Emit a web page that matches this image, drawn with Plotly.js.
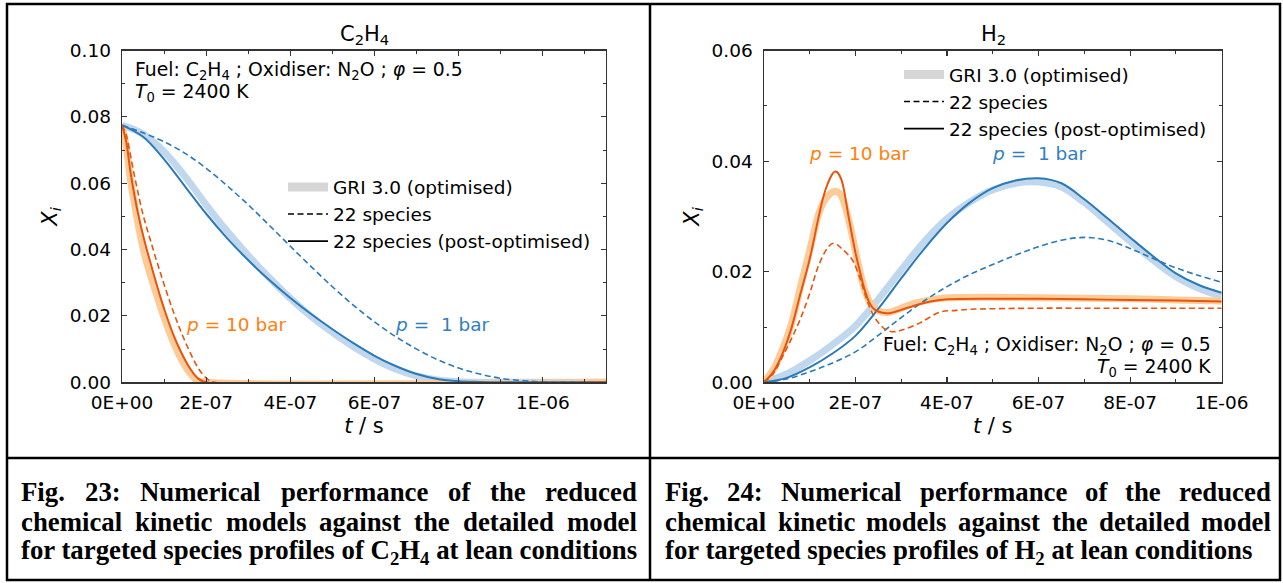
<!DOCTYPE html>
<html><head><meta charset="utf-8">
<script src="https://cdn.plot.ly/plotly-3.0.1.min.js"></script>
<style>html,body{margin:0;padding:0;background:#fff}#chart{width:1283px;height:583px}</style>
</head><body><div id="chart"></div>
<script>
// ---------- Fig. 23 : C2H4 (times in s, mole fractions) ----------
const c2h4_1bar_t = [0,0.5e-7,1e-7,1.5e-7,2e-7,2.5e-7,3e-7,3.5e-7,4e-7,4.5e-7,5e-7,5.5e-7,6e-7,6.5e-7,7e-7,7.5e-7,8e-7,8.5e-7,9e-7,9.5e-7,10e-7,10.5e-7,11.5e-7];
const c2h4_1bar_gri  = [0.0775,0.0748,0.0695,0.0620,0.0535,0.0455,0.0382,0.0315,0.0253,0.0198,0.0150,0.0107,0.0070,0.0040,0.0019,0.0007,0.0002,0,0,0,0,0,0];
const c2h4_1bar_post = [0.0775,0.0740,0.0672,0.0590,0.0508,0.0434,0.0368,0.0308,0.0254,0.0205,0.0160,0.0118,0.0080,0.0049,0.0025,0.0010,0.0003,0.0001,0,0,0,0,0];
const c2h4_1bar_22   = [0.0775,0.0752,0.0725,0.0690,0.0645,0.0592,0.0535,0.0473,0.0410,0.0348,0.0288,0.0232,0.0182,0.0138,0.0100,0.0068,0.0043,0.0025,0.0012,0.0005,0.0001,0,0];

const c2h4_10bar_gri_t = [0,0.1e-7,0.2e-7,0.3e-7,0.4e-7,0.5e-7,0.6e-7,0.8e-7,1e-7,1.2e-7,1.4e-7,1.6e-7,1.8e-7,2e-7,11.5e-7];
const c2h4_10bar_gri   = [0.0775,0.0710,0.0610,0.0535,0.0465,0.0405,0.0355,0.0272,0.0195,0.0128,0.0072,0.0030,0.0005,0,0];
const c2h4_10bar_post_t = [0,0.1e-7,0.2e-7,0.3e-7,0.4e-7,0.5e-7,0.6e-7,0.7e-7,0.8e-7,0.9e-7,1e-7,1.2e-7,1.4e-7,1.6e-7,1.8e-7,2e-7,11.5e-7];
const c2h4_10bar_post   = [0.0775,0.0725,0.0635,0.0560,0.0497,0.0443,0.0395,0.0350,0.0305,0.0262,0.0222,0.0150,0.0092,0.0045,0.0012,0,0];
const c2h4_10bar_22_t = [0,0.1e-7,0.2e-7,0.3e-7,0.4e-7,0.5e-7,0.6e-7,0.7e-7,0.8e-7,0.9e-7,1e-7,1.2e-7,1.4e-7,1.6e-7,1.8e-7,2e-7,2.2e-7,11.5e-7];
const c2h4_10bar_22   = [0.0775,0.0745,0.0685,0.0620,0.0560,0.0505,0.0460,0.0418,0.0375,0.0335,0.0295,0.0220,0.0153,0.0095,0.0045,0.0013,0,0];

// ---------- Fig. 24 : H2 ----------
const h2_1bar_t = [0,0.5e-7,1e-7,1.5e-7,2e-7,2.5e-7,3e-7,3.5e-7,4e-7,4.5e-7,5e-7,5.5e-7,6e-7,6.5e-7,7e-7,7.5e-7,8e-7,8.5e-7,9e-7,9.5e-7,10e-7];
const h2_1bar_gri  = [0,0.0015,0.0039,0.0068,0.0102,0.0150,0.0203,0.0254,0.0296,0.0326,0.0348,0.0360,0.0362,0.0353,0.0325,0.0290,0.0255,0.0221,0.0191,0.0170,0.0155];
const h2_1bar_post = [0,0.0008,0.0027,0.0052,0.0084,0.0133,0.0188,0.0241,0.0288,0.0325,0.0351,0.0365,0.0369,0.0360,0.0331,0.0297,0.0262,0.0228,0.0197,0.0176,0.0162];
const h2_1bar_22   = [0,0.0006,0.0019,0.0035,0.0055,0.0085,0.0117,0.0147,0.0173,0.0195,0.0213,0.0230,0.0245,0.0257,0.0262,0.0257,0.0242,0.0224,0.0207,0.0193,0.0181];

const h2_10bar_gri_t = [0,0.2e-7,0.4e-7,0.6e-7,0.8e-7,1e-7,1.2e-7,1.3e-7,1.4e-7,1.5e-7,1.6e-7,1.7e-7,1.85e-7,2e-7,2.1e-7,2.2e-7,2.3e-7,2.4e-7,2.5e-7,2.68e-7,2.8e-7,3e-7,3.3e-7,3.7e-7,4e-7,5e-7,6e-7,7e-7,8e-7,9e-7,10e-7];
const h2_10bar_gri   = [0,0.0022,0.0058,0.0105,0.0172,0.0238,0.0305,0.0325,0.0337,0.0344,0.0345,0.0336,0.0295,0.0238,0.0200,0.0168,0.0147,0.0136,0.0129,0.0126,0.0128,0.0134,0.0143,0.0150,0.0153,0.0154,0.0153,0.0152,0.0151,0.0149,0.0147];
const h2_10bar_post_t = [0,0.2e-7,0.4e-7,0.6e-7,0.8e-7,1e-7,1.2e-7,1.3e-7,1.4e-7,1.5e-7,1.55e-7,1.6e-7,1.7e-7,1.85e-7,2e-7,2.1e-7,2.2e-7,2.3e-7,2.4e-7,2.5e-7,2.68e-7,2.8e-7,3e-7,3.3e-7,3.7e-7,4e-7,5e-7,6e-7,7e-7,8e-7,9e-7,10e-7];
const h2_10bar_post   = [0,0.0018,0.0050,0.0097,0.0160,0.0222,0.0300,0.0335,0.0360,0.0377,0.0381,0.0380,0.0365,0.0300,0.0235,0.0200,0.0168,0.0145,0.0133,0.0128,0.01248,0.0126,0.0131,0.0139,0.0147,0.0150,0.0151,0.0151,0.0150,0.0149,0.0148,0.0146];
const h2_10bar_22_t = [0,0.2e-7,0.4e-7,0.6e-7,0.8e-7,1e-7,1.2e-7,1.4e-7,1.5e-7,1.6e-7,1.7e-7,1.85e-7,1.95e-7,2.1e-7,2.2e-7,2.3e-7,2.4e-7,2.5e-7,2.65e-7,2.8e-7,3e-7,3.4e-7,3.85e-7,4.2e-7,4.5e-7,5e-7,6e-7,7e-7,8e-7,9e-7,10e-7];
const h2_10bar_22   = [0,0.0015,0.0045,0.0078,0.0115,0.0160,0.0212,0.0244,0.0251,0.0249,0.0242,0.0230,0.0219,0.0188,0.0162,0.0138,0.0120,0.0108,0.0096,0.00915,0.0094,0.0107,0.0127,0.0130,0.0132,0.0133,0.0134,0.0134,0.0134,0.0134,0.0134];

// ---------- tick labels ----------
const xTickVals23 = [0,2e-7,4e-7,6e-7,8e-7,1e-6];
const xTickText23 = ['0E+00','2E-07','4E-07','6E-07','8E-07','1E-06'];
const xMinor23 = [1e-7,3e-7,5e-7,7e-7,9e-7,1.1e-6];
const yTickVals23 = [0,0.02,0.04,0.06,0.08,0.10];
const yTickText23 = ['0.00','0.02','0.04','0.06','0.08','0.10'];
const yMinor23 = [0.01,0.03,0.05,0.07,0.09];
const xTickVals24 = [0,2e-7,4e-7,6e-7,8e-7,1e-6];
const xTickText24 = ['0E+00','2E-07','4E-07','6E-07','8E-07','1E-06'];
const xMinor24 = [1e-7,3e-7,5e-7,7e-7,9e-7];
const yTickVals24 = [0,0.02,0.04,0.06];
const yTickText24 = ['0.00','0.02','0.04','0.06'];
const yMinor24 = [0.01,0.03,0.05];

const legendNames = ['GRI 3.0 (optimised)','22 species','22 species (post-optimised)'];

// ---------- styles ----------
const W = 1283, H = 583;
const px = v => v / W, py = v => 1 - v / H;
const BLUE = '#2a7ab8', BLUE_BAND = '#c0d7ee', ORANGE = '#e6550d', ORANGE_BAND = '#fdcb97';
const BLUE_TXT = '#2f7fc0', ORANGE_TXT = '#ff7f0e';
const FONT = 'DejaVu Sans';
const FS = 18.5;
const DASH = '6px,3.5px';

function tr(x, y, xa, ya, color, width, dash) {
  return {x, y, xaxis: xa, yaxis: ya, type: 'scatter', mode: 'lines', showlegend: false, hoverinfo: 'skip',
    line: {color, width, dash: dash || 'solid', shape: 'spline', smoothing: 1}};
}
const traces = [
  tr(c2h4_1bar_t, c2h4_1bar_gri, 'x', 'y', BLUE_BAND, 7),
  tr(c2h4_10bar_gri_t, c2h4_10bar_gri, 'x', 'y', ORANGE_BAND, 7),
  tr(c2h4_1bar_t, c2h4_1bar_22, 'x', 'y', BLUE, 1.6, DASH),
  tr(c2h4_10bar_22_t, c2h4_10bar_22, 'x', 'y', ORANGE, 1.6, DASH),
  tr(c2h4_1bar_t, c2h4_1bar_post, 'x', 'y', BLUE, 2),
  tr(c2h4_10bar_post_t, c2h4_10bar_post, 'x', 'y', ORANGE, 2),
  tr(h2_1bar_t, h2_1bar_gri, 'x2', 'y2', BLUE_BAND, 7),
  tr(h2_10bar_gri_t, h2_10bar_gri, 'x2', 'y2', ORANGE_BAND, 7),
  tr(h2_1bar_t, h2_1bar_22, 'x2', 'y2', BLUE, 1.6, DASH),
  tr(h2_10bar_22_t, h2_10bar_22, 'x2', 'y2', ORANGE, 1.6, DASH),
  tr(h2_1bar_t, h2_1bar_post, 'x2', 'y2', BLUE, 2),
  tr(h2_10bar_post_t, h2_10bar_post, 'x2', 'y2', ORANGE, 2),
];
// legend entries
const legStyles = [{color:'#d6d6d6', width:9, dash:'solid'}, {color:'#000', width:1.5, dash:DASH}, {color:'#000', width:1.8, dash:'solid'}];
[['x','y','legend'],['x2','y2','legend2']].forEach(([xa,ya,lg]) => {
  legendNames.forEach((n,i) => traces.push({x:[null], y:[null], xaxis:xa, yaxis:ya, type:'scatter', mode:'lines',
    name:n, legend:lg, showlegend:true, line:legStyles[i]}));
});

const axisCommon = {
  showline: true, linecolor: '#333', linewidth: 1.3, mirror: 'ticks', ticks: 'inside', ticklen: 5,
  tickwidth: 1.1, tickcolor: '#333', showgrid: false, zeroline: false, fixedrange: true,
  tickfont: {family: FONT, size: FS, color: '#000'}, tickmode: 'array', automargin: false
};
const minor = vals => ({tickmode:'array', tickvals: vals, ticks:'inside', ticklen: 3, tickwidth: 1, tickcolor:'#333', showgrid:false});
const axTitle = t => ({text: t, font: {family: FONT, size: 21}, standoff: 6});

const layout = {
  width: W, height: H, margin: {l:0, r:0, t:0, b:0}, paper_bgcolor: '#fff', plot_bgcolor: '#fff',
  font: {family: FONT, color: '#000'}, hovermode: false,
  xaxis: Object.assign({}, axisCommon, {domain:[px(122), px(606)], range:[0, 1.15e-6], anchor:'y',
    tickvals: xTickVals23, ticktext: xTickText23, minor: minor(xMinor23), ticklabelstandoff: 3,
    title: axTitle('<i>t</i> / s')}),
  yaxis: Object.assign({}, axisCommon, {domain:[py(382.3), py(50.5)], range:[0, 0.10], anchor:'x',
    tickvals: yTickVals23, ticktext: yTickText23, minor: minor(yMinor23), ticklabelstandoff: 6,
    title: axTitle('<i>X<sub>i</sub></i>')}),
  xaxis2: Object.assign({}, axisCommon, {domain:[px(763.8), px(1221.7)], range:[0, 1e-6], anchor:'y2',
    tickvals: xTickVals24, ticktext: xTickText24, minor: minor(xMinor24), ticklabelstandoff: 3,
    title: axTitle('<i>t</i> / s')}),
  yaxis2: Object.assign({}, axisCommon, {domain:[py(382.3), py(50.5)], range:[0, 0.06], anchor:'x2',
    tickvals: yTickVals24, ticktext: yTickText24, minor: minor(yMinor24), ticklabelstandoff: 6,
    title: axTitle('<i>X<sub>i</sub></i>')}),
  legend: {x: px(283), y: py(168.5), xanchor:'left', yanchor:'top', bgcolor:'rgba(0,0,0,0)',
    font:{family:FONT, size:FS, color:'#000'}, itemwidth: 40, tracegroupgap: 0},
  legend2: {x: px(899), y: py(56), xanchor:'left', yanchor:'top', bgcolor:'rgba(0,0,0,0)',
    font:{family:FONT, size:FS, color:'#000'}, itemwidth: 40, tracegroupgap: 0},
  annotations: [],
  shapes: []
};

const A = layout.annotations;
function ann(text, x, y, opts) {
  A.push(Object.assign({text, x: px(x), y: py(y), xref:'paper', yref:'paper', showarrow:false,
    xanchor:'left', yanchor:'middle', font:{family:FONT, size:FS, color:'#000'}}, opts || {}));
}
// panel titles
ann('C<sub>2</sub>H<sub>4</sub>', 364, 35, {xanchor:'center', font:{family:FONT, size:21, color:'#000'}});
ann('H<sub>2</sub>', 993, 35, {xanchor:'center', font:{family:FONT, size:21, color:'#000'}});
// conditions
ann('Fuel: C<sub>2</sub>H<sub>4</sub> ; Oxidiser: N<sub>2</sub>O ; <i>φ</i> = 0.5', 133, 71, {font:{family:FONT, size:18.8, color:'#000'}});
ann('<i>T</i><sub>0</sub> = 2400 K', 133, 93, {font:{family:FONT, size:18.8, color:'#000'}});
ann('Fuel: C<sub>2</sub>H<sub>4</sub> ; Oxidiser: N<sub>2</sub>O ; <i>φ</i> = 0.5', 1213, 346, {xanchor:'right', font:{family:FONT, size:18.8, color:'#000'}});
ann('<i>T</i><sub>0</sub> = 2400 K', 1213, 368, {xanchor:'right', font:{family:FONT, size:18.8, color:'#000'}});
// pressure labels
ann('<i>p</i> = 10 bar', 184, 324, {font:{family:FONT, size:FS, color:ORANGE_TXT}});
ann('<i>p</i> =\u00a0 1 bar', 393, 324, {font:{family:FONT, size:FS, color:BLUE_TXT}});
ann('<i>p</i> = 10 bar', 807, 153, {font:{family:FONT, size:FS, color:ORANGE_TXT}});
ann('<i>p</i> =\u00a0 1 bar', 990, 153, {font:{family:FONT, size:FS, color:BLUE_TXT}});

// captions (justified word by word)
const CAP_SIZE = 26.8;
const capFont = {family:'Liberation Serif', size: CAP_SIZE, color:'#000', weight: 'bold'};
const cv = document.createElement('canvas').getContext('2d');
cv.font = 'bold ' + CAP_SIZE + 'px "Liberation Serif"';
function justify(line, x0, x1, y) {
  const words = line.split(' ');
  const ws = words.map(w => cv.measureText(w).width);
  const gap = (x1 - x0 - ws.reduce((a,b)=>a+b,0)) / (words.length - 1);
  let x = x0;
  words.forEach((w,i) => { ann('<b>' + w + '</b>', x, y, {font: capFont, borderpad: 0}); x += ws[i] + gap; });
}
const capL = ['Fig. 23: Numerical performance of the reduced', 'chemical kinetic models against the detailed model'];
const capR = ['Fig. 24: Numerical performance of the reduced', 'chemical kinetic models against the detailed model'];
const capY = [492, 522, 552];
justify(capL[0], 20, 636, capY[0]);
justify(capL[1], 20, 636, capY[1]);
ann('<b>for targeted species profiles of C<sub>2</sub>H<sub>4</sub> at lean conditions</b>', 20, capY[2], {font: capFont, borderpad: 0});
justify(capR[0], 664, 1270, capY[0]);
justify(capR[1], 664, 1270, capY[1]);
ann('<b>for targeted species profiles of H<sub>2</sub> at lean conditions</b>', 664, capY[2], {font: capFont, borderpad: 0});

// table frame
const S = layout.shapes;
function ln(x0,y0,x1,y1){ S.push({type:'line', xref:'paper', yref:'paper', x0:px(x0), y0:py(y0), x1:px(x1), y1:py(y1), line:{color:'#000', width:2.5}}); }
S.push({type:'rect', xref:'paper', yref:'paper', x0:px(7), y0:py(580), x1:px(1280), y1:py(4), line:{color:'#000', width:2.5}});
ln(7,458,1280,458);
ln(650,4,650,580);

Plotly.newPlot('chart', traces, layout, {staticPlot:true, displayModeBar:false});
</script></body></html>
